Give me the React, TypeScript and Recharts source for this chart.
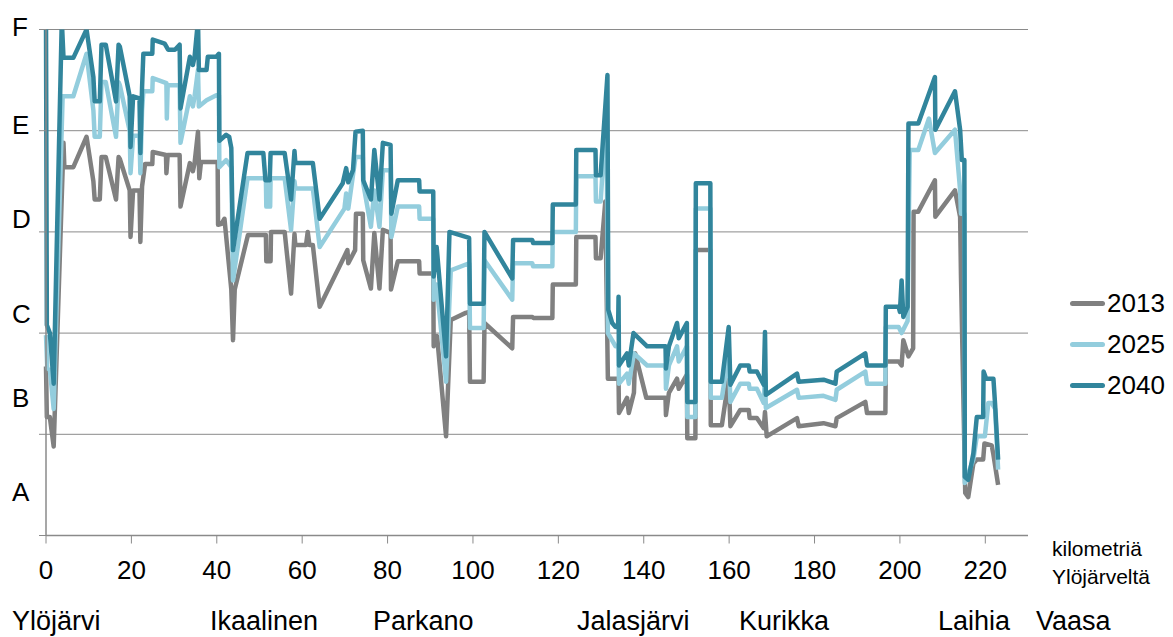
import React from 'react';
import { LineChart, Line, XAxis, YAxis, CartesianGrid, Legend } from 'recharts';

// kilometres from Ylöjärvi and level of service (A=0..F=5) per scenario year
const km2013 = [
  0, 0.2, 0.9, 1.8, 4.1, 4.3, 6.4, 9.5, 11.1, 11.4, 12.6, 13.0, 14.0, 16.4, 17.0, 17.3, 19.6, 19.8, 20.4, 21.9,
  22.1, 22.5, 23.2, 24.9, 25.0, 28.1, 28.2, 28.5, 31.3, 31.5, 33.7, 34.4, 34.8, 35.6, 35.9, 36.3, 40.2, 40.3, 41.1, 41.8,
  43.4, 43.8, 44.2, 47.3, 51.5, 51.6, 52.6, 52.7, 55.9, 57.4, 58.2, 58.4, 60.9, 61.3, 61.7, 62.5, 64.1, 69.9, 70.6, 70.8,
  72.4, 72.6, 74.2, 74.3, 76.1, 76.9, 78.1, 78.9, 80.7, 80.8, 82.4, 87.4, 87.5, 90.7, 90.8, 91.6, 93.7, 94.8, 98.3, 99.1,
  99.3, 102.5, 102.7, 109.2, 109.4, 113.9, 114.1, 118.6, 118.7, 124.1, 124.2, 128.7, 128.8, 129.9, 131.0, 131.6, 134.1, 134.2, 136.1, 136.5,
  137.7, 138.0, 140.6, 145.1, 145.2, 145.9, 147.8, 148.2, 150.1, 150.2, 152.1, 152.2, 155.6, 155.7, 158.3, 159.9, 160.3, 162.6, 164.6, 164.8,
  166.5, 168.1, 168.4, 168.8, 175.9, 176.3, 182.1, 184.9, 185.2, 191.9, 192.3, 196.6, 196.7, 199.7, 200.4, 200.8, 202.0, 203.1, 203.2, 204.3,
  208.2, 208.3, 212.9, 214.1, 214.3, 215.3, 216.0, 217.2, 218.0, 219.5, 219.8, 221.5, 221.9, 223.0,
];
const lvl2013 = [
  1.67, 1.17, 1.17, 0.88, 3.88, 3.64, 3.64, 3.94, 3.5, 3.32, 3.32, 3.74, 3.74, 3.32, 3.74, 3.72, 3.41, 2.95, 3.41, 3.41,
  2.9, 3.45, 3.67, 3.67, 3.79, 3.76, 3.58, 3.76, 3.76, 3.25, 3.68, 3.6, 3.68, 3.99, 3.53, 3.69, 3.69, 3.07, 3.08, 3.13,
  2.43, 1.93, 2.43, 2.97, 2.97, 2.71, 2.71, 3.0, 3.0, 2.39, 2.98, 2.87, 2.87, 3.0, 2.87, 2.87, 2.26, 2.76, 2.82, 2.69,
  2.82, 3.18, 3.18, 2.72, 2.44, 2.99, 2.44, 3.02, 2.99, 2.43, 2.71, 2.71, 2.59, 2.59, 1.87, 1.97, 0.98, 2.13, 2.2, 2.21,
  1.52, 1.52, 2.1, 1.85, 2.16, 2.16, 2.15, 2.15, 2.48, 2.48, 2.95, 2.95, 2.74, 2.74, 3.3, 1.55, 1.55, 1.21, 1.36, 1.21,
  1.41, 1.8, 1.36, 1.36, 1.19, 1.41, 1.55, 1.45, 1.59, 0.96, 0.96, 2.82, 2.82, 1.09, 1.09, 1.55, 1.08, 1.24, 1.24, 1.16,
  1.16, 1.06, 1.22, 0.98, 1.16, 1.08, 1.11, 1.08, 1.16, 1.32, 1.21, 1.21, 1.72, 1.72, 1.68, 1.93, 1.77, 1.85, 3.2, 3.2,
  3.51, 3.15, 3.41, 3.15, 2.57, 0.42, 0.38, 0.71, 0.75, 0.75, 0.91, 0.89, 0.8, 0.5,
];

const km2025 = [
  0, 0.3, 0.9, 1.8, 3.9, 6.4, 9.5, 11.1, 11.4, 12.6, 13.0, 14.0, 16.4, 17.0, 17.3, 19.6, 19.8, 20.4, 21.9, 22.1,
  22.5, 22.8, 24.9, 25.0, 28.2, 28.3, 28.5, 31.3, 31.5, 33.7, 34.4, 34.8, 35.6, 35.8, 37.6, 39.9, 40.5, 40.6, 42.2, 43.4,
  43.8, 47.2, 51.5, 51.6, 52.5, 52.6, 55.9, 57.4, 58.2, 58.4, 62.5, 64.1, 69.9, 70.3, 70.8, 72.5, 74.2, 74.3, 76.1, 76.9,
  78.1, 78.9, 80.7, 80.9, 82.4, 87.4, 87.5, 90.7, 90.8, 91.5, 93.7, 94.8, 99.1, 99.3, 102.5, 102.7, 109.2, 109.4, 113.9, 114.1,
  118.6, 118.7, 124.1, 124.2, 128.7, 128.8, 129.9, 131.3, 131.6, 133.4, 134.1, 134.2, 136.1, 136.5, 137.7, 140.8, 145.1, 145.2, 145.9, 147.8,
  148.2, 150.1, 150.2, 152.1, 152.2, 155.6, 155.7, 158.3, 159.9, 160.3, 162.6, 164.6, 164.8, 166.5, 168.1, 168.4, 168.6, 175.9, 176.3, 182.1,
  184.9, 185.2, 191.9, 192.3, 196.6, 196.7, 199.7, 200.4, 201.8, 202.3, 204.3, 206.8, 208.2, 212.9, 214.1, 214.3, 215.1, 215.2, 217.2, 218.0,
  219.9, 220.7, 221.5, 222.3, 223.0,
];
const lvl2025 = [
  1.98, 1.65, 1.64, 1.25, 4.34, 4.34, 4.76, 4.2, 3.94, 3.94, 4.48, 4.48, 3.94, 4.48, 4.45, 4.0, 3.58, 3.95, 3.95, 3.58,
  4.2, 4.39, 4.39, 4.52, 4.47, 4.12, 4.45, 4.45, 3.88, 4.34, 4.24, 4.34, 4.6, 4.24, 4.3, 4.35, 4.35, 3.64, 3.71, 3.64,
  2.52, 3.53, 3.53, 3.25, 3.25, 3.53, 3.53, 3.02, 3.5, 3.43, 3.43, 2.85, 3.23, 3.38, 3.23, 3.74, 3.74, 3.48, 3.05, 3.41,
  3.05, 3.61, 3.61, 2.95, 3.25, 3.25, 3.13, 3.13, 2.33, 2.48, 1.52, 2.62, 2.69, 2.05, 2.05, 2.72, 2.33, 2.69, 2.69, 2.66,
  2.66, 3.0, 3.0, 3.55, 3.55, 3.3, 3.3, 4.2, 2.0, 1.87, 1.87, 1.5, 1.6, 1.5, 1.8, 1.68, 1.68, 1.45, 1.68, 1.87,
  1.72, 1.87, 1.17, 1.17, 3.23, 3.23, 1.36, 1.36, 1.8, 1.32, 1.5, 1.5, 1.45, 1.45, 1.31, 1.6, 1.26, 1.44, 1.36, 1.38,
  1.34, 1.44, 1.62, 1.5, 1.5, 2.06, 2.06, 2.0, 2.12, 3.81, 3.81, 4.12, 3.78, 4.01, 3.41, 3.18, 3.18, 0.52, 0.75, 0.98,
  0.98, 1.31, 1.31, 1.25, 0.65,
];

const km2040 = [
  0, 0.2, 0.9, 1.8, 3.7, 4.1, 6.4, 9.5, 11.1, 11.4, 12.6, 13.0, 14.0, 16.4, 17.0, 17.3, 19.6, 19.8, 20.4, 21.9,
  22.1, 22.5, 22.8, 24.9, 25.0, 27.8, 28.2, 28.6, 30.2, 31.3, 31.5, 33.7, 34.4, 34.8, 35.6, 35.8, 37.6, 37.9, 39.9, 40.5,
  40.6, 42.2, 42.9, 43.4, 43.8, 47.2, 50.9, 51.4, 52.4, 52.6, 55.9, 57.4, 58.2, 58.4, 62.5, 64.1, 69.5, 70.3, 70.8, 71.9,
  72.5, 74.2, 74.3, 76.1, 76.9, 78.1, 78.9, 80.7, 80.9, 82.4, 87.4, 87.5, 90.7, 90.8, 91.5, 93.7, 94.5, 99.1, 99.3, 102.5,
  102.7, 109.2, 109.4, 113.9, 114.1, 118.6, 118.7, 124.1, 124.2, 128.7, 128.8, 129.9, 131.5, 131.7, 132.6, 133.4, 134.0, 134.1, 134.2, 136.1,
  136.5, 137.6, 140.8, 145.1, 145.2, 145.9, 147.8, 148.2, 150.1, 150.2, 152.1, 152.2, 155.6, 155.7, 158.3, 159.9, 160.3, 162.6, 164.6, 164.8,
  166.5, 168.1, 168.4, 168.6, 175.9, 176.3, 182.1, 184.9, 185.2, 191.9, 192.3, 196.6, 196.7, 199.7, 200.0, 200.4, 200.8, 201.8, 202.0, 204.3,
  208.2, 208.3, 212.9, 214.1, 214.5, 215.1, 215.2, 216.0, 217.2, 218.0, 219.5, 219.6, 220.2, 221.9, 222.3, 223.0,
];
const lvl2040 = [
  5.09, 2.08, 2.0, 1.5, 5.09, 4.72, 4.72, 5.0, 4.53, 4.29, 4.29, 4.85, 4.85, 4.29, 4.85, 4.83, 4.34, 3.84, 4.34, 4.32,
  3.78, 4.43, 4.76, 4.76, 4.9, 4.86, 4.83, 4.8, 4.8, 4.85, 4.22, 4.73, 4.65, 4.73, 5.09, 4.6, 4.6, 4.73, 4.73, 4.76,
  3.9, 3.96, 3.94, 3.83, 2.82, 3.78, 3.78, 3.51, 3.51, 3.78, 3.78, 3.32, 3.8, 3.68, 3.68, 3.13, 3.48, 3.63, 3.49, 3.61,
  3.99, 4.0, 3.51, 3.32, 3.81, 3.32, 3.88, 3.86, 3.18, 3.51, 3.51, 3.4, 3.4, 2.56, 2.85, 1.77, 3.0, 2.94, 2.29, 2.29,
  3.0, 2.54, 2.92, 2.92, 2.89, 2.89, 3.27, 3.27, 3.81, 3.81, 3.56, 3.56, 4.55, 2.23, 2.1, 2.06, 2.06, 2.36, 1.68, 1.8,
  1.68, 2.0, 1.87, 1.87, 1.65, 1.87, 2.1, 1.95, 2.1, 1.32, 1.32, 3.48, 3.48, 1.52, 1.52, 2.06, 1.49, 1.68, 1.68, 1.62,
  1.62, 1.49, 2.01, 1.39, 1.6, 1.52, 1.54, 1.5, 1.62, 1.8, 1.68, 1.68, 2.26, 2.26, 2.21, 2.52, 2.16, 2.26, 4.07, 4.07,
  4.53, 4.01, 4.39, 4.01, 3.71, 3.71, 0.58, 0.55, 0.81, 1.17, 1.17, 1.62, 1.55, 1.55, 1.29, 0.75,
];

const seriesNames = ['2013', '2025', '2040'];
const seriesColors = ['#808080', '#93CDDD', '#31859C'];
const kmTicks = [0, 20, 40, 60, 80, 100, 120, 140, 160, 180, 200, 220];
const gridLevels = [0, 1, 2, 3, 4, 5];
const gradeLabels = ['A', 'B', 'C', 'D', 'E', 'F'];
const gradeLabelLevels = [0.43, 1.36, 2.19, 3.13, 4.06, 5.03];
const towns = ['Ylöjärvi', 'Ikaalinen', 'Parkano', 'Jalasjärvi', 'Kurikka', 'Laihia', 'Vaasa'];
const unitLines = ['kilometriä', 'Ylöjärveltä'];

// label placement (pixels)
const townLeft = [12, 210, 373, 577, 739, 938, 1036];

const FONT = '"Liberation Sans", Arial, sans-serif';
const AXIS_GRAY = '#8a8a8a';

const toPoints = (km: number[], lvl: number[]) => km.map((k, i) => ({ km: k, level: lvl[i] }));
const seriesData = [toPoints(km2013, lvl2013), toPoints(km2025, lvl2025), toPoints(km2040, lvl2040)];

const NoTick = () => <g />;

// letter grades sit at the far left, whatever axis carries them
const GradeTick = (props: any) => {
  const { y, payload } = props;
  const idx = gradeLabelLevels.indexOf(payload.value);
  return (
    <text x={12} y={y} dy="0.36em" fontSize={26} fontFamily={FONT} fill="#000" textAnchor="start">
      {gradeLabels[idx]}
    </text>
  );
};

const LegendBox = (props: any) => {
  const payload = props.payload || [];
  return (
    <div style={{ fontFamily: FONT, fontSize: 26, color: '#000' }}>
      {payload.map((entry: any) => (
        <div key={entry.value} style={{ display: 'flex', alignItems: 'center', height: 41 }}>
          <span style={{ display: 'inline-block', width: 35, height: 5, borderRadius: 2.5, background: entry.color }} />
          <span style={{ marginLeft: 2 }}>{entry.value}</span>
        </div>
      ))}
    </div>
  );
};

export default function App() {
  return (
    <div style={{ position: 'relative', width: 1173, height: 637, background: '#fff' }}>
      <style>{'body{margin:0}'}</style>
      <LineChart width={1173} height={637} margin={{ top: 29.5, right: 144, bottom: 61.5, left: 0 }}>
        <CartesianGrid horizontal vertical={false} yAxisId="lvl" stroke={AXIS_GRAY} strokeWidth={1} />
        <XAxis
          type="number"
          dataKey="km"
          domain={[0, 230]}
          ticks={kmTicks}
          height={40}
          tickSize={8}
          tickMargin={17}
          axisLine={{ stroke: AXIS_GRAY, strokeWidth: 1.5 }}
          tickLine={{ stroke: AXIS_GRAY }}
          tick={{ fill: '#000', fontSize: 26, fontFamily: FONT }}
        />
        <YAxis
          yAxisId="lvl"
          domain={[0, 5]}
          allowDataOverflow
          ticks={gridLevels}
          interval={0}
          width={46}
          tickSize={7}
          tick={<NoTick />}
          axisLine={{ stroke: AXIS_GRAY, strokeWidth: 1.5 }}
          tickLine={{ stroke: AXIS_GRAY }}
        />
        <YAxis
          yAxisId="grade"
          orientation="right"
          domain={[0, 5]}
          allowDataOverflow
          ticks={gradeLabelLevels}
          interval={0}
          width={1}
          axisLine={false}
          tickLine={false}
          tick={<GradeTick />}
        />
        {seriesData.map((pts, i) => (
          <Line
            key={seriesNames[i]}
            data={pts}
            dataKey="level"
            name={seriesNames[i]}
            yAxisId="lvl"
            type="linear"
            stroke={seriesColors[i]}
            strokeWidth={4.5}
            strokeLinejoin="round"
            dot={false}
            activeDot={false}
            isAnimationActive={false}
          />
        ))}
        <Legend
          layout="vertical"
          align="center"
          verticalAlign="middle"
          content={<LegendBox />}
          wrapperStyle={{ left: 1070, top: 283, width: 110, height: 123 }}
        />
      </LineChart>
      <svg
        width={1173}
        height={637}
        style={{ position: 'absolute', left: 0, top: 0, pointerEvents: 'none' }}
        fontFamily={FONT}
      >
        {towns.map((t, i) => (
          <text key={t} x={townLeft[i]} y={630} fontSize={27} fill="#000">
            {t}
          </text>
        ))}
        {unitLines.map((t, i) => (
          <text key={t} x={1052} y={556 + i * 28} fontSize={21} fill="#000">
            {t}
          </text>
        ))}
      </svg>
    </div>
  );
}
